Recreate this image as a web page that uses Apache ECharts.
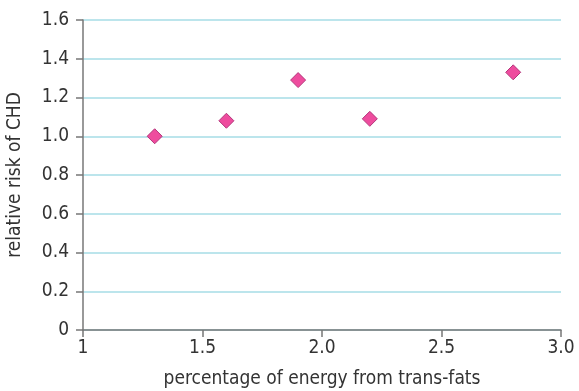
<!DOCTYPE html>
<html><head><meta charset="utf-8">
<script src="https://cdn.jsdelivr.net/npm/echarts@6/dist/echarts.min.js"></script>
<style>html,body{margin:0;padding:0;background:#fff}#c{width:579px;height:391px}</style>
</head><body><div id="c"></div>
<script>
const transFat = [1.3, 1.6, 1.9, 2.2, 2.8];
const relRisk = [1.00, 1.08, 1.29, 1.09, 1.33];
const xTicks = [1, 1.5, 2.0, 2.5, 3.0];
const yTicks = [0, 0.2, 0.4, 0.6, 0.8, 1.0, 1.2, 1.4, 1.6];

const font = '"DejaVu Sans Condensed", "Liberation Sans Narrow", sans-serif';
const chart = echarts.init(document.getElementById('c'));
chart.setOption({
  animation: false,
  grid: {left: 83, right: 18, top: 20, bottom: 61, containLabel: false, outerBoundsMode: 'none'},
  xAxis: {
    type: 'value', min: xTicks[0], max: xTicks[xTicks.length-1], interval: 0.5,
    name: 'percentage of energy from trans-fats', nameLocation: 'middle', nameGap: 40,
    nameTextStyle: {fontFamily: font, fontSize: 19, color: '#333'},
    axisLine: {show: true, lineStyle: {color: '#777', width: 1.5}},
    axisTick: {show: true, length: 7, lineStyle: {color: '#777', width: 1.5}},
    axisLabel: {fontFamily: font, fontSize: 19, color: '#333', margin: 9,
      formatter: v => v === 1 ? '1' : v.toFixed(1)},
    splitLine: {show: false}
  },
  yAxis: {
    type: 'value', min: yTicks[0], max: yTicks[yTicks.length-1], interval: 0.2,
    name: 'relative risk of CHD', nameLocation: 'middle', nameGap: 58,
    nameTextStyle: {fontFamily: font, fontSize: 19, color: '#333'},
    axisLine: {show: true, lineStyle: {color: '#777', width: 1.5}},
    axisTick: {show: true, length: 7, lineStyle: {color: '#777', width: 1.5}},
    axisLabel: {fontFamily: font, fontSize: 19, color: '#333', margin: 14,
      formatter: v => v === 0 ? '0' : v.toFixed(1)},
    splitLine: {show: true, lineStyle: {color: '#a6dde6', width: 1.5}}
  },
  series: [{
    type: 'scatter',
    data: transFat.map((x, i) => [x, relRisk[i]]),
    symbol: 'diamond', symbolSize: 15,
    itemStyle: {color: '#ee4c9e', borderColor: '#b3367a', borderWidth: 1, opacity: 1}
  }]
});
</script></body></html>
